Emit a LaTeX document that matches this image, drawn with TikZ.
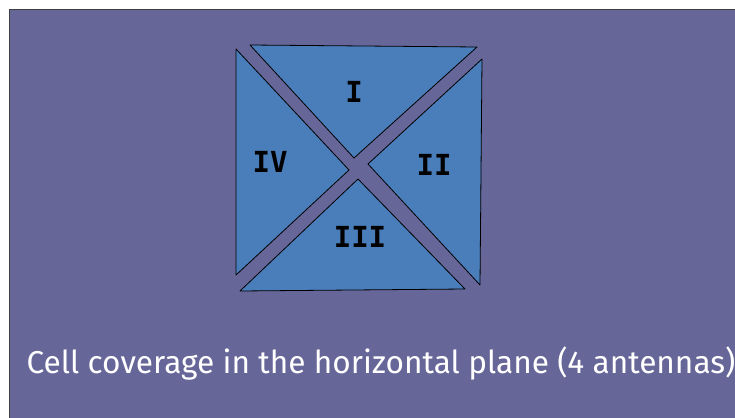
\documentclass[tikz,border=0pt]{standalone}
\usepackage{fontspec}
\setmainfont{Fira Sans}
\newfontfamily\numfont{DejaVu Sans Mono}

\definecolor{slide}{HTML}{666699}
\definecolor{cell}{HTML}{4A7EBB}

\begin{document}
\begin{tikzpicture}[x=1pt,y=-1pt,
    sector/.style={draw=black,line width=.8pt,fill=cell,line join=round},
    sectorlabel/.style={font=\numfont\bfseries\fontsize{29}{29}\selectfont,text=black},
    caption/.style={font=\fontsize{31.6}{32}\selectfont,text=white,anchor=west}]
    \useasboundingbox (0,0) rectangle (735,417);

    \fill [slide] (9,10) rectangle (736,418);
    \draw [black!75,line width=1pt] (9,418) -- (9,10) -- (736,10);

    \coordinate (i1) at (250,45);
    \coordinate (i2) at (477,47);
    \coordinate (i3) at (354,158);

    \coordinate (ii1) at (482,59);
    \coordinate (ii2) at (480,285);
    \coordinate (ii3) at (368,164);

    \coordinate (iii1) at (465,289);
    \coordinate (iii2) at (240,291);
    \coordinate (iii3) at (358,179);

    \coordinate (iv1) at (236,275);
    \coordinate (iv2) at (236,49);
    \coordinate (iv3) at (349,170);

    \draw [sector] (i1) -- (i2) -- (i3) -- cycle;
    \draw [sector] (ii1) -- (ii2) -- (ii3) -- cycle;
    \draw [sector] (iii1) -- (iii2) -- (iii3) -- cycle;
    \draw [sector] (iv1) -- (iv2) -- (iv3) -- cycle;

    \node [sectorlabel] (lbl1) at (354,92) {I};
    \node [sectorlabel] (lbl2) at (434,165) {II};
    \node [sectorlabel] (lbl3) at (360,237) {III};
    \node [sectorlabel] (lbl4) at (270,162) {IV};

    \node [caption] (cap) at (23,364) {Cell coverage in the horizontal plane (4 antennas)};
\end{tikzpicture}
\end{document}
